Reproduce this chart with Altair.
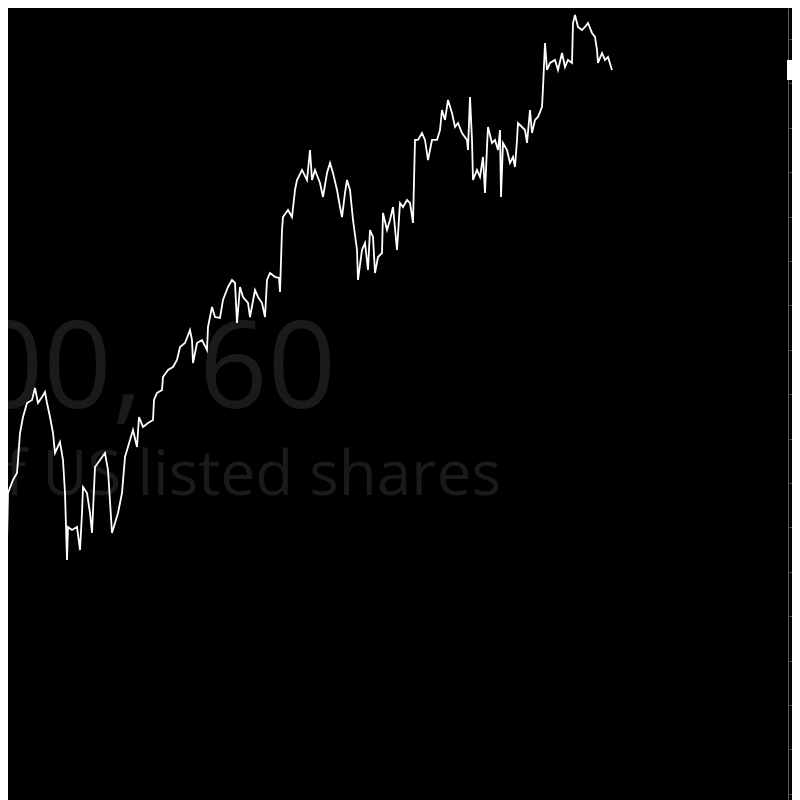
import altair as alt
import pandas as pd

# hourly bar index (time axis) and close price
bars = [2,5,7,8,13,17,18,20,23,27,
        32,35,38,42,45,47,50,53,55,60,
        63,65,67,68,72,77,80,82,83,87,
        90,92,95,100,105,108,112,115,118,122,
        125,130,133,137,139,143,148,153,154,157,
        162,163,168,173,177,180,185,190,192,193,
        197,202,207,208,212,215,220,223,228,232,
        235,237,240,243,248,250,255,258,262,265,
        267,270,275,279,280,282,283,288,292,295,
        297,302,307,310,312,315,320,323,327,330,
        333,337,340,342,345,347,350,353,357,358,
        362,365,368,370,373,375,378,382,383,387,
        390,393,397,400,403,407,410,413,415,418,
        422,425,428,432,437,440,442,445,448,452,
        455,458,462,467,468,470,472,473,477,480,
        483,485,487,488,492,495,498,500,501,503,
        507,510,513,515,517,518,522,525,527,530,
        532,535,538,542,543,545,547,550,555,558,
        562,565,568,572,573,575,578,582,585,588,
        592,595,597,598,602,605,608,612]

price = [47.75,46.62,43.24,48.87,50.34,51.13,52.59,55.63,57.43,59.01,
         59.35,60.70,59.01,59.68,60.25,59.01,57.43,55.63,53.38,54.62,
         52.59,48.87,41.33,45.05,44.71,45.05,42.45,46.62,49.55,48.87,
         46.62,44.37,51.80,52.59,53.38,51.46,44.37,45.50,46.62,48.87,
         52.93,54.84,55.97,54.05,57.43,56.31,56.76,57.09,59.35,60.14,
         60.47,61.94,62.73,63.06,63.85,65.32,65.77,67.23,66.10,63.51,
         65.77,66.10,64.98,67.57,69.82,68.69,68.58,70.61,72.07,72.86,
         72.52,68.02,72.07,70.95,70.27,68.69,71.73,70.95,70.27,68.69,
         72.86,73.65,73.20,73.09,71.51,78.49,79.95,80.74,79.95,83.00,
         84.12,85.25,84.12,87.50,84.12,85.25,83.78,82.21,84.91,86.04,
         84.91,83.00,81.08,79.95,82.66,84.12,83.00,79.62,76.24,72.86,
         76.24,77.03,73.99,78.49,77.70,73.65,75.45,75.90,80.41,78.49,
         79.62,81.08,76.24,81.53,81.08,81.87,81.53,79.28,88.63,88.63,
         89.41,88.63,86.37,88.63,88.63,89.75,92.00,90.88,93.13,91.67,
         90.09,90.54,89.41,88.63,87.50,93.47,88.63,84.12,85.25,84.46,
         86.71,82.66,87.84,90.09,88.29,88.63,87.50,89.75,82.21,88.29,
         87.50,86.04,86.71,85.59,88.63,90.54,90.09,89.75,88.29,92.00,
         89.41,90.88,91.22,92.34,94.48,99.55,96.51,97.30,97.64,96.51,
         98.42,96.85,97.64,97.30,101.80,102.70,101.35,101.01,101.35,101.80,
         100.68,100.23,98.76,97.30,98.42,97.64,97.97,96.51]

assert len(bars) == len(price), (len(bars), len(price))

price_ticks = [15, 20, 25, 30, 35, 40, 45, 50, 55, 60, 65, 70, 75, 80, 85, 90, 95, 100]
y_domain = [13.40, 103.49]
x_domain = [8, 788]

watermark_symbol = "SPX500,"
watermark_interval = "60"
watermark_desc = "Index of US listed shares"

W, H = 780, 800

df = pd.DataFrame({"bar": bars, "price": price})
last = pd.DataFrame({"price": [price[-1]], "hi": [price[-1] + 1.13], "lo": [price[-1] - 1.13]})

xs = alt.Scale(domain=x_domain, nice=False, zero=False)
ys = alt.Scale(domain=y_domain, nice=False, zero=False)

wm_color = "#1a1a1a"
wm1 = alt.Chart(pd.DataFrame({"t": [watermark_symbol]})).mark_text(
    font="Open Sans", fontSize=120, color=wm_color, align="right", baseline="alphabetic"
).encode(x=alt.value(135), y=alt.value(400), text="t:N")
wm2 = alt.Chart(pd.DataFrame({"t": [watermark_interval]})).mark_text(
    font="Open Sans", fontSize=120, color=wm_color, align="left", baseline="alphabetic"
).encode(x=alt.value(191), y=alt.value(400), text="t:N")
wm3 = alt.Chart(pd.DataFrame({"t": [watermark_desc]})).mark_text(
    font="Open Sans", fontSize=62, color=wm_color, align="right", baseline="alphabetic"
).encode(x=alt.value(493), y=alt.value(487), text="t:N")

line = alt.Chart(df).mark_line(color="white", strokeWidth=1.8, clip=True).encode(
    x=alt.X("bar:Q", scale=xs, axis=None),
    y=alt.Y("price:Q", scale=ys, axis=alt.Axis(
        orient="right", values=price_ticks, grid=False, domainColor="#5e5e5e",
        domainWidth=1, tickColor="#4a4a4a", tickSize=4, labels=False, title=None)),
)

label = alt.Chart(last).mark_rect(color="white", clip=False).encode(
    x=alt.value(779), x2=alt.value(800),
    y=alt.Y("hi:Q", scale=ys), y2="lo:Q",
)

chart = alt.layer(wm1, wm2, wm3, line, label).properties(
    width=W, height=H,
    background="black",
    autosize=alt.AutoSizeParams(type="none"),
    padding={"left": 0, "top": 0, "right": 4, "bottom": 0},
).configure_view(stroke=None)

chart.save("out.html", embed_options={"renderer": "svg", "actions": False})
